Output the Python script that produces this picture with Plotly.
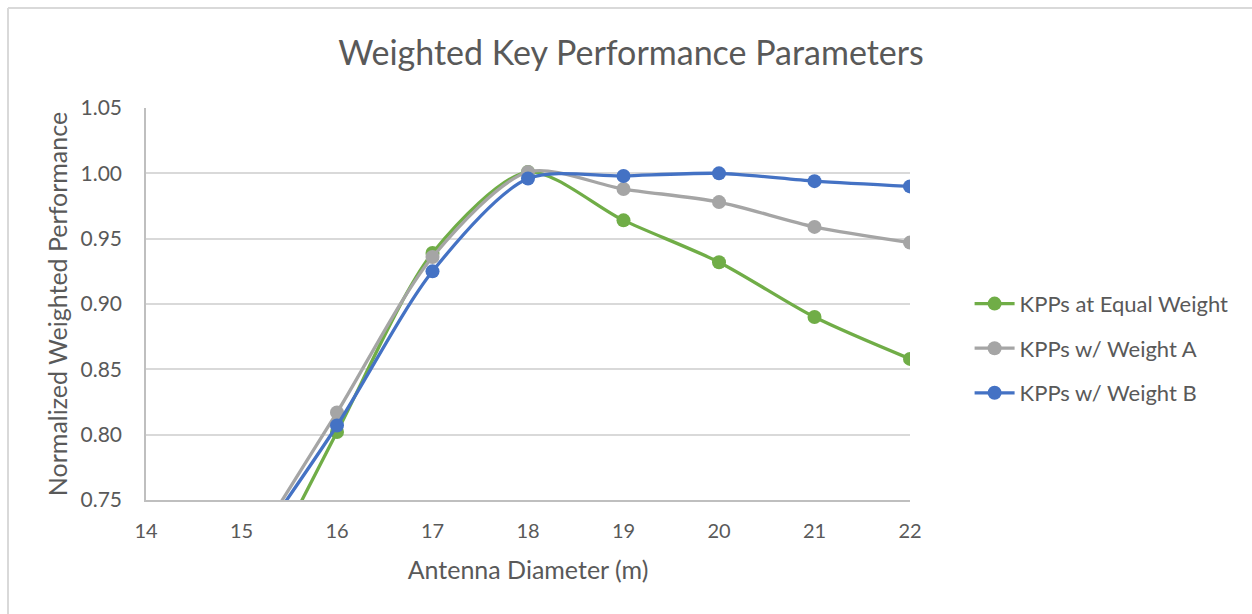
import plotly.graph_objects as go

# Antenna diameter (m) and normalized weighted performance per weighting scheme
diameter = [15, 16, 17, 18, 19, 20, 21, 22]
kpp_equal = [0.66, 0.802, 0.939, 1.001, 0.964, 0.932, 0.890, 0.858]
kpp_weight_a = [0.70, 0.817, 0.936, 1.001, 0.988, 0.978, 0.959, 0.947]
kpp_weight_b = [0.70, 0.807, 0.925, 0.996, 0.998, 1.000, 0.994, 0.990]

series_names = ["KPPs at Equal Weight", "KPPs w/ Weight A", "KPPs w/ Weight B"]
series_values = [kpp_equal, kpp_weight_a, kpp_weight_b]
series_colors = ["#70AD47", "#A5A5A5", "#4472C4"]

x_ticks = [14, 15, 16, 17, 18, 19, 20, 21, 22]
y_ticks = [0.75, 0.80, 0.85, 0.90, 0.95, 1.00, 1.05]

FONT = "Lato, Open Sans, sans-serif"
TEXT = "#595959"

fig = go.Figure()
for i, (name, vals, col) in enumerate(zip(series_names, series_values, series_colors)):
    fig.add_trace(go.Scatter(
        x=diameter, y=vals, name=name, mode="lines+markers",
        legendgroup=f"g{i}",
        line=dict(color=col, width=3.3, shape="spline", smoothing=0.8),
        marker=dict(color=col, size=14),
        cliponaxis=True,
    ))

fig.update_layout(
    width=1252, height=614,
    margin=dict(l=146, r=342, t=108, b=114),
    paper_bgcolor="white", plot_bgcolor="white",
    font=dict(family=FONT, color=TEXT),
    title=dict(text="Weighted Key Performance Parameters",
               x=(631 - 146) / 764, xref="paper", xanchor="center",
               y=0.913, yanchor="middle",
               font=dict(size=34, color=TEXT, family=FONT)),
    legend=dict(x=1.078, xanchor="left", y=0.387, yanchor="middle",
                font=dict(size=22, color=TEXT, family=FONT),
                tracegroupgap=13, itemwidth=40, bgcolor="rgba(0,0,0,0)"),
    showlegend=True,
)

fig.update_xaxes(
    range=[14, 22], tickvals=x_ticks, ticktext=[str(v) for v in x_ticks],
    showgrid=False, zeroline=False,
    showline=True, linecolor="#BFBFBF", linewidth=1.5,
    tickfont=dict(size=20, color=TEXT, family=FONT), ticklabelstandoff=12,
    title=dict(text="Antenna Diameter (m)", standoff=21,
               font=dict(size=25, color=TEXT, family=FONT)),
)
fig.update_yaxes(
    range=[0.75, 1.05], tickvals=y_ticks, ticktext=[f"{v:.2f}" for v in y_ticks],
    showgrid=True, gridcolor="#D9D9D9", gridwidth=1.5, zeroline=False,
    showline=True, linecolor="#BFBFBF", linewidth=1.5,
    tickfont=dict(size=21, color=TEXT, family=FONT), ticklabelstandoff=18,
    title=dict(text="Normalized Weighted Performance", standoff=6,
               font=dict(size=25, color=TEXT, family=FONT)),
)

# Chart frame (top and left edges)
fig.add_shape(type="line", xref="paper", yref="paper",
              x0=-138 / 764, x1=1.6, y0=1 + 100 / 392, y1=1 + 100 / 392,
              line=dict(color="#D9D9D9", width=2), layer="below")
fig.add_shape(type="line", xref="paper", yref="paper",
              x0=-138 / 764, x1=-138 / 764, y0=1 + 100 / 392, y1=-0.4,
              line=dict(color="#D9D9D9", width=2), layer="below")

fig.write_html("out.html")
